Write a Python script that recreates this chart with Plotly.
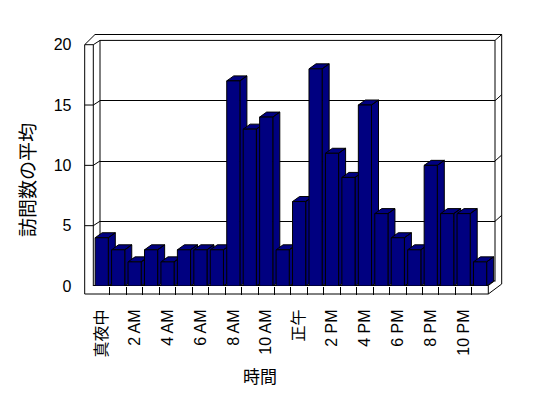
import plotly.graph_objects as go

# ---- data ----
hour_labels = ["真夜中", "1 AM", "2 AM", "3 AM", "4 AM", "5 AM", "6 AM", "7 AM",
               "8 AM", "9 AM", "10 AM", "11 AM", "正午", "1 PM", "2 PM", "3 PM",
               "4 PM", "5 PM", "6 PM", "7 PM", "8 PM", "9 PM", "10 PM", "11 PM"]
visits = [4, 3, 2, 3, 2, 3, 3, 3, 17, 13, 14, 3, 7, 18, 11, 9, 15, 6, 4, 3, 10, 6, 6, 2]
y_ticks = [0, 5, 10, 15, 20]
x_title = "時間"
y_title = "訪問数の平均"

# ---- geometry (pixels) ----
W, H = 548, 398
def X(px): return px / W
def Y(py): return 1 - py / H

STEP = 16.45                      # px per category
FX0 = 93.5                        # front plot left
FX1 = FX0 + 24.5 * STEP           # front plot right (range -0.5..24)
FY_TOP, FY_BOT = 44.7, 286.0      # front value scale 20 -> 0
BX0, BX1 = 100.0, 495.0           # back wall
BY_TOP, BY_BOT = 40.4, 281.6
PXV_F = (FY_BOT - FY_TOP) / 20
PXV_B = (BY_BOT - BY_TOP) / 20

BAR_W = 0.8
DX = 7 / STEP
DY = 5 / PXV_F

NAVY = "#000080"
FONT = "Liberation Sans, Arial, Noto Sans CJK JP, sans-serif"
CJK = "Noto Sans CJK JP, sans-serif"

fig = go.Figure()

# back-wall subplot (gridlines only)
fig.add_trace(go.Scatter(x=[], y=[], xaxis="x", yaxis="y", hoverinfo="skip"))

# depth faces (side + top) drawn left to right
for i, v in enumerate(visits):
    l, r = i - BAR_W / 2, i + BAR_W / 2
    xs = [r, r, r + DX, r + DX, r, None, l, r, r + DX, l + DX, l]
    ys = [0, v, v + DY, DY, 0, None, v, v, v + DY, v + DY, v]
    fig.add_trace(go.Scatter(x=xs, y=ys, xaxis="x2", yaxis="y2", mode="lines",
                             fill="toself", fillcolor=NAVY,
                             line=dict(color="black", width=1), hoverinfo="skip"))

# front faces
fig.add_trace(go.Bar(x=hour_labels, y=visits, xaxis="x3", yaxis="y3", width=BAR_W,
                     marker=dict(color=NAVY, line=dict(color="black", width=1)),
                     hovertemplate="%{x}: %{y}<extra></extra>"))

# ---- frame shapes ----
def seg(x0, y0, x1, y1):
    return dict(type="line", xref="paper", yref="paper", layer="below",
                x0=X(x0), y0=Y(y0), x1=X(x1), y1=Y(y1),
                line=dict(color="black", width=1))

XE = FX0 + 24 * STEP
shapes = [
    seg(84.7, FY_TOP, 84.7, 294),
    seg(84.7, FY_TOP, 95, 34.5),
    seg(84.7, FY_TOP, 93.3, FY_TOP),
    seg(93.3, FY_TOP, 93.3, FY_BOT),
    seg(93.3, FY_TOP, BX0, BY_TOP),
    seg(BX0, BY_TOP, BX0, BY_BOT),
    seg(95, 34.5, 501.7, 34.5),
    seg(BX0, BY_TOP, BX1, BY_TOP),
    seg(BX1, BY_TOP, 501.7, 34.5),
    seg(BX1, BY_TOP, BX1, BY_BOT),
    seg(501.7, 34.5, 501.7, 284),
    seg(84.7, 294, XE, 294),
    seg(93.3, 285.5, XE, 285.5),
    seg(XE, 285.5, XE, 294),
    seg(XE, 294, 501.7, 284),
    seg(XE, 285.5, BX1, 280.5),
]
for t in y_ticks[1:-1]:
    yf = FY_BOT - t * PXV_F
    yb = BY_BOT - t * PXV_B
    shapes += [seg(84.7, yf, 93.3, yf), seg(93.3, yf, BX0, yb),
               seg(BX1, yb, 501.7, yb - 6)]

fig.update_layout(
    width=W, height=H,
    margin=dict(l=0, r=0, t=0, b=0, pad=0, autoexpand=False),
    paper_bgcolor="white", plot_bgcolor="rgba(0,0,0,0)",
    showlegend=False, shapes=shapes,
    font=dict(family=FONT, size=16, color="black"),
    # back wall
    xaxis=dict(domain=[X(BX0), X(BX1)], range=[0, 1], visible=False,
               automargin=False, fixedrange=True),
    yaxis=dict(domain=[Y(BY_BOT), Y(BY_TOP)], range=[0, 20], tickvals=y_ticks[1:-1],
               showgrid=True, gridcolor="black", gridwidth=1, showticklabels=False,
               zeroline=False, showline=False, ticks="", automargin=False,
               fixedrange=True),
    # depth faces + floor ticks
    xaxis2=dict(domain=[X(FX0), X(FX1)], range=[-0.5, 24.0], anchor="y2",
                tickvals=[k + 0.5 for k in range(23)], ticks="outside", ticklen=8,
                tickcolor="black", tickwidth=1, showticklabels=False,
                showgrid=False, zeroline=False, showline=False, automargin=False,
                fixedrange=True),
    yaxis2=dict(domain=[Y(FY_BOT), Y(FY_TOP)], range=[0, 20], anchor="free",
                position=X(84.7), tickvals=y_ticks, ticks="outside", ticklen=10,
                tickcolor="rgba(0,0,0,0)", showgrid=False, zeroline=False,
                showline=False, tickfont=dict(size=16, family=FONT),
                automargin=False, fixedrange=True),
    # front faces + category labels
    xaxis3=dict(overlaying="x2", anchor="y3", type="category",
                categoryorder="array", categoryarray=hour_labels,
                range=[-0.5, 24.0], tickmode="array", tickvals=hour_labels[::2],
                ticktext=hour_labels[::2], tickangle=-90, ticks="outside",
                ticklen=16, tickcolor="rgba(0,0,0,0)", showgrid=False,
                zeroline=False, showline=False,
                tickfont=dict(size=16, family=FONT, color="black"),
                automargin=False, fixedrange=True),
    yaxis3=dict(overlaying="y2", anchor="x3", range=[0, 20], visible=False,
                showgrid=False, automargin=False, fixedrange=True),
    annotations=[
        dict(text=x_title, xref="paper", yref="paper", x=X(260), y=Y(375),
             xanchor="center", yanchor="middle",
             showarrow=False, font=dict(family=CJK, size=17)),
        dict(text=y_title, xref="paper", yref="paper", x=X(27), y=Y(180),
             xanchor="center", yanchor="middle",
             textangle=-90, showarrow=False, font=dict(family=CJK, size=19)),
    ],
)

fig.write_html("out.html")
